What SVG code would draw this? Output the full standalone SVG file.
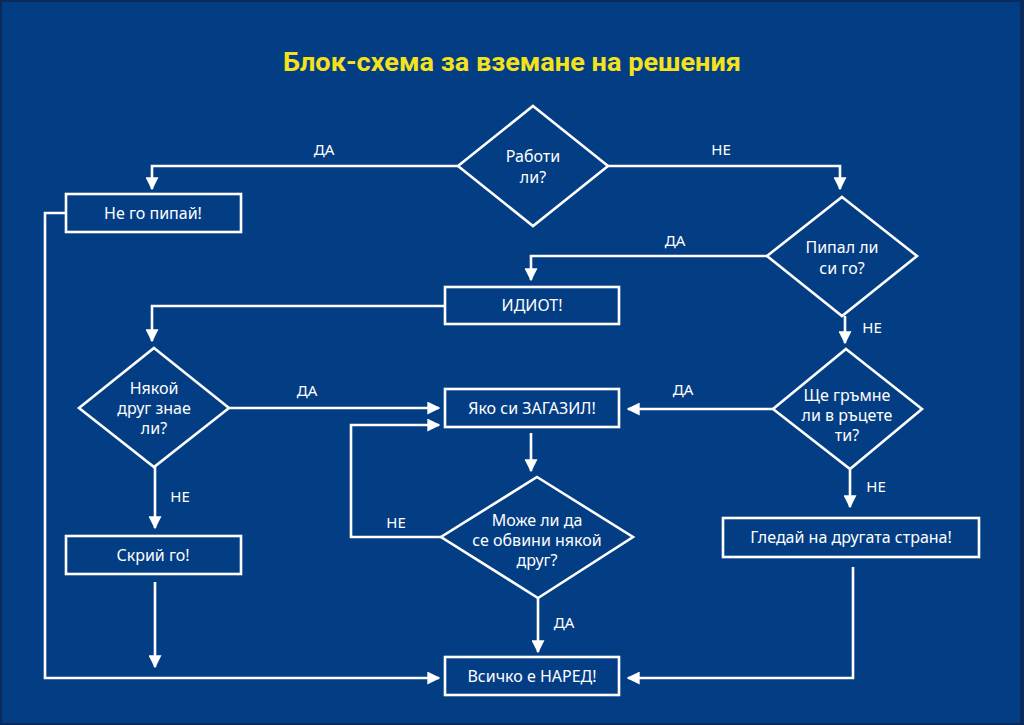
<svg xmlns="http://www.w3.org/2000/svg" width="1024" height="725" viewBox="0 0 1024 725">
<defs>
<marker id="ah" viewBox="0 0 10 10" refX="9" refY="5" markerWidth="5" markerHeight="5" orient="auto" markerUnits="strokeWidth">
<path d="M0,0 L10,5 L0,10 Z" fill="#ffffff"/>
</marker>
<style>
.shape{fill:none;stroke:#ffffff;stroke-width:2.6}
.conn{fill:none;stroke:#ffffff;stroke-width:2.6;marker-end:url(#ah)}
.t{font-family:"Noto Sans","Open Sans","DejaVu Sans",sans-serif;font-size:16px;fill:#ffffff;text-anchor:middle}
.lbl{font-family:"Noto Sans","Open Sans","DejaVu Sans",sans-serif;font-size:15px;fill:#ffffff;text-anchor:middle}
.title{font-family:"Liberation Sans Narrow","Roboto","Liberation Sans",sans-serif;font-size:25px;font-weight:bold;fill:#f4e21c;text-anchor:middle}
</style>
</defs>
<rect x="0" y="0" width="1024" height="725" fill="#0a2a5c"/>
<rect x="2" y="2" width="1018" height="721" fill="#033d84"/>
<text class="title" x="512" y="71" textLength="458" lengthAdjust="spacingAndGlyphs">Блок-схема за вземане на решения</text>

<g id="connectors">
<polyline class="conn" points="458,166 152,166 152,189"/>
<polyline class="conn" points="608,166 840,166 840,189"/>
<polyline class="conn" points="767,256 531,256 531,280"/>
<polyline class="conn" points="445,306 152,306 152,341"/>
<polyline class="conn" points="845,316 845,343"/>
<polyline class="conn" points="773,409 628,409"/>
<polyline class="conn" points="229,408 439,408"/>
<polyline class="conn" points="441,537 351,537 351,425 439,425"/>
<polyline class="conn" points="531,433 531,471"/>
<polyline class="conn" points="538,598 538,652"/>
<polyline class="conn" points="155,467 155,528"/>
<polyline class="conn" points="155,582 155,667"/>
<polyline class="conn" points="66,213 45,213 45,678 439,678"/>
<polyline class="conn" points="850,469 850,507"/>
<polyline class="conn" points="853,567 853,678 628,678"/>
<text class="lbl" x="324" y="155">ДА</text>
<text class="lbl" x="721" y="155">НЕ</text>
<text class="lbl" x="675" y="246">ДА</text>
<text class="lbl" x="872" y="333">НЕ</text>
<text class="lbl" x="683" y="395">ДА</text>
<text class="lbl" x="307" y="396">ДА</text>
<text class="lbl" x="396" y="528">НЕ</text>
<text class="lbl" x="564" y="628">ДА</text>
<text class="lbl" x="180" y="502">НЕ</text>
<text class="lbl" x="876" y="492">НЕ</text>
</g>

<g id="d-raboti">
<polygon class="shape" points="533,106 608,166 533,226 458,166"/>
<text class="t" x="533" y="162">Работи</text>
<text class="t" x="533" y="183">ли?</text>
</g>
<g id="b-ne-go-pipai">
<rect class="shape" x="66" y="194" width="175" height="38"/>
<text class="t" x="153" y="219">Не го пипай!</text>
</g>
<g id="d-pipal">
<polygon class="shape" points="842,197 917,256 842,316 767,256"/>
<text class="t" x="842" y="253">Пипал ли</text>
<text class="t" x="842" y="274">си го?</text>
</g>
<g id="b-idiot">
<rect class="shape" x="445" y="287" width="174" height="37"/>
<text class="t" x="532" y="311">ИДИОТ!</text>
</g>
<g id="d-nyakoi">
<polygon class="shape" points="154,348 229,408 154,467 79,408"/>
<text class="t" x="154" y="394">Някой</text>
<text class="t" x="154" y="414">друг знае</text>
<text class="t" x="154" y="434">ли?</text>
</g>
<g id="d-shte">
<polygon class="shape" points="846,349 922,409 850,469 773,409"/>
<text class="t" x="847" y="401">Ще гръмне</text>
<text class="t" x="847" y="421">ли в ръцете</text>
<text class="t" x="847" y="441">ти?</text>
</g>
<g id="b-yako">
<rect class="shape" x="445" y="389" width="174" height="38"/>
<text class="t" x="532" y="414">Яко си ЗАГАЗИЛ!</text>
</g>
<g id="d-moje">
<polygon class="shape" points="537,477 633,537 538,598 441,537"/>
<text class="t" x="537" y="526">Може ли да</text>
<text class="t" x="537" y="546">се обвини някой</text>
<text class="t" x="537" y="566">друг?</text>
</g>
<g id="b-skrii">
<rect class="shape" x="66" y="536" width="175" height="38"/>
<text class="t" x="153" y="561">Скрий го!</text>
</g>
<g id="b-gledai">
<rect class="shape" x="723" y="518" width="256" height="39"/>
<text class="t" x="851" y="543">Гледай на другата страна!</text>
</g>
<g id="b-vsichko">
<rect class="shape" x="445" y="657" width="174" height="38"/>
<text class="t" x="532" y="682">Всичко е НАРЕД!</text>
</g>
</svg>
